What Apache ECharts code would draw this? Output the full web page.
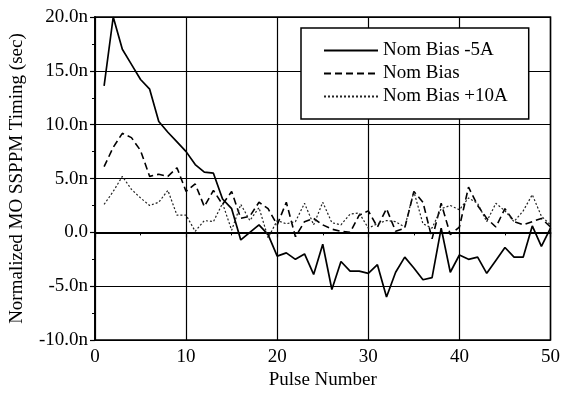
<!DOCTYPE html>
<html>
<head>
<meta charset="utf-8">
<script src="https://cdn.jsdelivr.net/npm/echarts@6/dist/echarts.min.js"></script>
<style>
  html, body { margin: 0; padding: 0; background: #fff; }
  #chart { width: 563px; height: 395px; }
</style>
</head>
<body>
<div id="chart"></div>
<script>
// pulse numbers 1..50
const pulses = [1,2,3,4,5,6,7,8,9,10,11,12,13,14,15,16,17,18,19,20,21,22,23,24,25,26,27,28,29,30,31,32,33,34,35,36,37,38,39,40,41,42,43,44,45,46,47,48,49,50];
// timing in ns
const biasMinus5A = [13.6,20,17,15.6,14.2,13.3,10.3,9.3,8.4,7.5,6.3,5.6,5.5,3.1,2.2,-0.7,0,0.7,-0.2,-2.2,-1.9,-2.5,-2.0,-3.9,-1.1,-5.3,-2.7,-3.6,-3.6,-3.8,-3.0,-6.0,-3.7,-2.3,-3.3,-4.4,-4.2,0.4,-3.7,-2.1,-2.5,-2.3,-3.8,-2.6,-1.4,-2.3,-2.3,0.6,-1.3,0.4];
const biasNom = [6.1,7.9,9.2,8.8,7.6,5.2,5.4,5.2,6.0,3.8,4.5,2.4,3.9,2.6,3.8,1.3,1.5,2.8,2.2,0.7,2.8,-0.4,1.0,1.3,0.7,0.3,0.1,0,1.6,2.0,0.5,2.2,0.1,0.4,3.8,2.8,-0.6,2.7,-0.2,0.5,4.2,2.5,1.3,0.5,2.2,1.0,0.7,1.0,1.3,0.5];
const biasPlus10A = [2.6,3.8,5.2,4.0,3.2,2.5,2.8,3.9,1.6,1.6,0.1,1.1,1.0,2.7,0.2,2.6,1.1,2.3,-0.5,1.1,0.8,1.0,2.7,0.7,2.8,0.9,0.7,1.7,1.8,0.4,0.8,1.1,1.0,0.5,3.8,0.8,0.4,2.2,2.5,2.1,3.2,2.7,1.0,2.7,2.0,1.0,2.0,3.5,1.5,0.7];

const names = ['Nom Bias -5A', 'Nom Bias', 'Nom Bias +10A'];
const font = 'Liberation Serif, Times New Roman, serif';

const pairs = (vals) => pulses.map((p, i) => [p, vals[i]]);

const chart = echarts.init(document.getElementById('chart'));
chart.setOption({
  animation: false,
  backgroundColor: '#fff',
  textStyle: { fontFamily: font, color: '#000' },
  grid: {
    left: 91, right: 12, top: 17, bottom: 53,
    show: true, borderColor: '#000', borderWidth: 1.5
  },
  legend: {
    orient: 'vertical',
    left: 301, top: 28,
    data: names,
    itemWidth: 54, itemHeight: 14, itemGap: 4,
    padding: [13, 21, 13, 22],
    backgroundColor: '#fff',
    borderColor: '#000', borderWidth: 1.5, borderRadius: 0,
    itemStyle: { opacity: 0 },
    textStyle: { fontFamily: font, fontSize: 19, color: '#000', lineHeight: 19 }
  },
  xAxis: {
    type: 'value', min: 0, max: 50, interval: 10,
    name: 'Pulse Number', nameLocation: 'middle', nameGap: 29,
    nameTextStyle: { fontFamily: font, fontSize: 19, color: '#000' },
    axisLine: { lineStyle: { color: '#000', width: 1.8 } },
    axisTick: { show: true, length: 5, lineStyle: { color: '#000', width: 1.2 } },
    minorTick: { show: true, splitNumber: 2, length: 3, lineStyle: { color: '#000' } },
    axisLabel: { fontFamily: font, fontSize: 19, color: '#000', margin: 7 },
    splitLine: { show: true, lineStyle: { color: '#000', width: 1.2 } }
  },
  yAxis: {
    type: 'value', min: -10, max: 20, interval: 5,
    name: 'Normalized MO SSPPM Timing (sec)', nameLocation: 'middle', nameGap: 68,
    nameTextStyle: { fontFamily: font, fontSize: 19, color: '#000' },
    axisLine: { show: true, lineStyle: { color: '#000', width: 1.8 } },
    axisTick: { show: true, length: 5, lineStyle: { color: '#000', width: 1.2 } },
    minorTick: { show: true, splitNumber: 2, length: 3, lineStyle: { color: '#000' } },
    axisLabel: {
      fontFamily: font, fontSize: 19, color: '#000', margin: 7,
      formatter: (v) => v === 0 ? '0.0' : v.toFixed(1) + 'n'
    },
    splitLine: { show: true, lineStyle: { color: '#000', width: 1.2 } }
  },
  series: [
    {
      name: names[0], type: 'line', symbol: 'none', data: pairs(biasMinus5A),
      lineStyle: { color: '#000', width: 1.7, type: 'solid' },
      itemStyle: { color: '#000' }
    },
    {
      name: names[1], type: 'line', symbol: 'none', data: pairs(biasNom),
      lineStyle: { color: '#000', width: 1.6, type: [7, 4] },
      itemStyle: { color: '#000' }
    },
    {
      name: names[2], type: 'line', symbol: 'none', data: pairs(biasPlus10A),
      lineStyle: { color: '#222', width: 1.2, type: [2, 2] },
      itemStyle: { color: '#222' }
    }
  ]
});
</script>
</body>
</html>
